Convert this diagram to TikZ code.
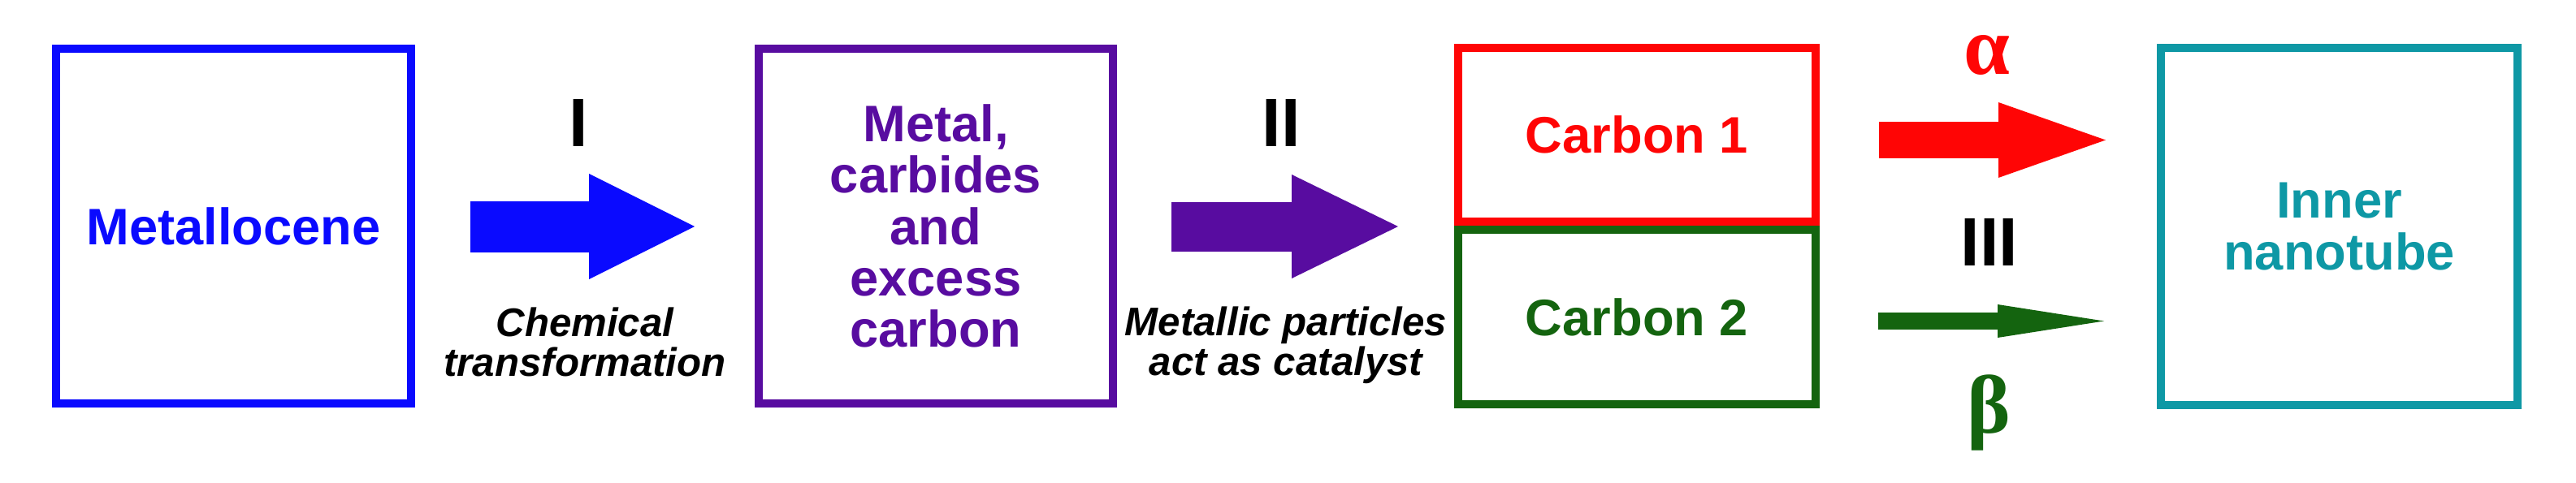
\documentclass[tikz,border=0pt]{standalone}
\usepackage{fontspec}
\setmainfont{Liberation Sans}
\newfontfamily\greekfont{Liberation Serif}
\usetikzlibrary{arrows.meta}

\definecolor{metblue}{RGB}{10,10,255}
\definecolor{metpurple}{RGB}{88,12,160}
\definecolor{cred}{RGB}{255,5,5}
\definecolor{cgreen}{RGB}{20,100,15}
\definecolor{tubeteal}{RGB}{14,152,165}

\tikzset{
	stage/.style={draw, line width=0.1cm, inner sep=0pt, align=center,
		font=\bfseries\fontsize{18}{18}\selectfont},
	numeral/.style={font=\bfseries\fontsize{24}{24}\selectfont, inner sep=0pt},
	note/.style={font=\bfseries\itshape\fontsize{14}{14}\selectfont, align=center, inner sep=0pt},
	greek/.style={font=\greekfont\bfseries\fontsize{29}{29}\selectfont, inner sep=0pt},
	blockarrow/.style n args={3}{line width=#1,
		-{Triangle[length=#2, width=#3, line width=0pt]}}
}

\begin{document}
\begin{tikzpicture}
			\useasboundingbox (0,0) rectangle (31.71,5.94);
			
				% stages
				\node[stage, metblue, minimum width=4.37cm, minimum height=4.37cm] (metallocene) at (2.875,3.155) {Metallocene};
				\node[stage, metpurple, minimum width=4.36cm, minimum height=4.37cm] (metal) at (11.52,3.155) {Metal,\\carbides\\and\\excess\\carbon};
				\node[stage, cgreen, minimum width=4.40cm, minimum height=2.15cm] (carbonB) at (20.15,2.035) {Carbon 2};
				\node[stage, cred, minimum width=4.40cm, minimum height=2.14cm] (carbonA) at (20.15,4.28) {Carbon 1};
				\node[stage, tubeteal, minimum width=4.39cm, minimum height=4.40cm] (tube) at (28.795,3.15) {Inner\\nanotube};
				
				% arrows
				\coordinate (Itail) at (5.79,3.15);
				\coordinate (Itip) at (8.55,3.15);
				\coordinate (IItail) at (14.42,3.15);
				\coordinate (IItip) at (17.21,3.15);
				\coordinate (atail) at (23.13,4.215);
				\coordinate (atip) at (25.92,4.215);
				\coordinate (btail) at (23.12,1.985);
				\coordinate (btip) at (25.90,1.985);
				
				\draw[metblue, blockarrow={0.63cm}{1.30cm}{1.30cm}] (Itail) -- (Itip);
				\draw[metpurple, blockarrow={0.61cm}{1.31cm}{1.28cm}] (IItail) -- (IItip);
				\draw[cred, blockarrow={0.45cm}{1.32cm}{0.93cm}] (atail) -- (atip);
				\draw[cgreen, blockarrow={0.21cm}{1.31cm}{0.41cm}] (btail) -- (btip);
				
				% labels
				\node[numeral, anchor=base] (labI) at (7.12,4.14) {I};
				\node[numeral, anchor=base] (labII) at (15.77,4.14) {II};
				\node[numeral, anchor=base] (labIII) at (24.49,2.67) {III};
				\node[greek, cred, anchor=base] (alpha) at (24.46,5.03) {α};
				\node[greek, cgreen, anchor=base] (beta) at (24.48,0.61) {β};
				
				\node[note] (chem) at (7.20,1.725) {Chemical\\transformation};
				\node[note] (cat) at (15.83,1.685) {Metallic particles\\act as catalyst};
			\end{tikzpicture}
\end{document}
